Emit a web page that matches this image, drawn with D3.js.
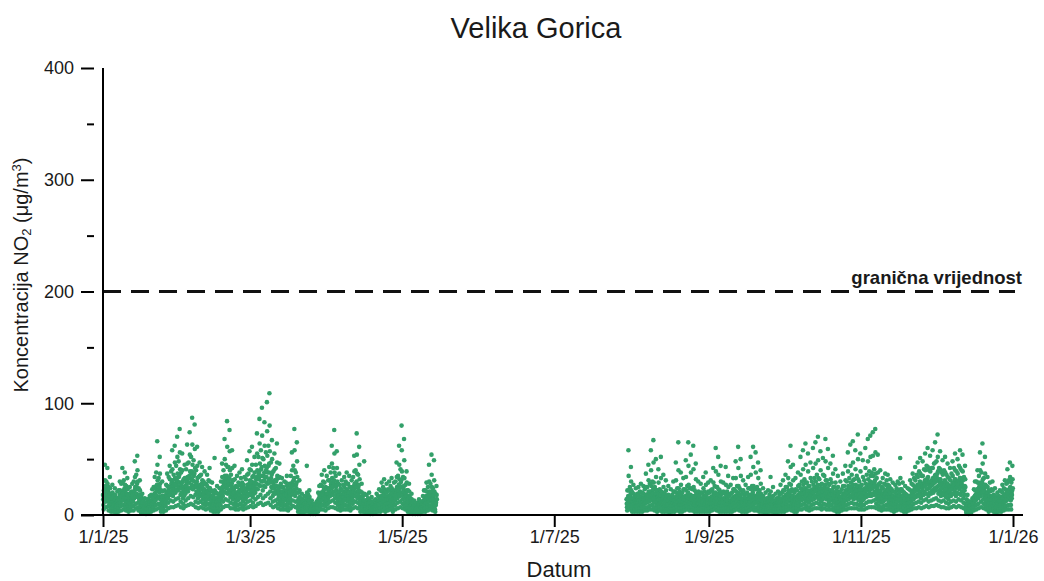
<!DOCTYPE html>
<html>
<head>
<meta charset="utf-8">
<script src="https://cdn.jsdelivr.net/npm/d3@7"></script>
<style>
  html, body { margin: 0; padding: 0; background: #fff; }
  svg { display: block; font-family: "Liberation Sans", Arial, sans-serif; }
</style>
</head>
<body>
<svg id="chart" width="1044" height="581"></svg>
<script>
// NO2 concentrations (µg/m³), one reading every two hours, one row per day.
const sampleHours = [0, 2, 4, 6, 8, 10, 12, 14, 16, 18, 20, 22];

const jan = [
  [18,14,9,5,22,16,12,15,20,45,31,24],[26,19,12,7,30,21,15,18,23,42,28,22],[21,16,8,4,25,17,11,13,17,34,24,19],
  [14,9,6,3,19,13,10,12,15,27,20,16],[12,8,5,3,17,12,9,11,13,24,18,14],[10,7,4,2,15,10,8,9,12,21,15,12],
  [13,9,6,3,22,15,11,14,18,30,22,16],[17,11,8,4,28,19,14,17,21,42,29,21],[19,13,9,5,31,22,16,19,24,38,27,22],
  [15,10,7,4,26,18,13,15,19,33,23,18],[12,8,5,3,18,13,10,11,14,25,19,15],[14,10,7,4,21,15,12,13,16,28,20,16],
  [18,12,8,4,30,20,15,18,22,48,34,25],[24,16,10,6,36,25,19,23,28,53,40,30],[16,11,7,4,24,16,12,14,18,31,22,18],
  [10,7,4,2,16,11,8,9,11,19,14,11],[8,5,3,2,12,8,6,7,9,15,11,9],[7,4,3,1,11,7,5,6,8,14,10,8],
  [9,6,4,2,14,9,7,8,10,17,12,10],[11,7,5,3,18,12,9,10,13,23,16,13],[15,10,7,4,25,17,12,15,19,34,24,18],
  [20,13,9,5,38,26,17,22,27,66,45,31],[22,15,10,6,33,23,16,20,25,52,37,28],[14,9,6,3,22,15,11,13,17,30,21,16],
  [11,7,5,3,17,12,9,10,13,22,16,13],[16,11,8,4,27,19,14,16,20,37,26,20],[21,15,11,6,34,24,18,21,25,44,32,25],
  [25,18,13,7,39,28,21,25,30,58,41,31],[23,17,12,7,36,26,20,23,28,62,47,33],[27,20,14,8,44,31,23,27,33,70,52,37],
  [30,22,15,9,48,34,25,29,36,77,56,41]
];
const feb = [
  [24,18,12,7,38,27,20,24,29,55,40,30],[20,15,10,6,32,23,17,20,25,45,33,25],[26,19,13,8,41,29,22,26,31,63,46,34],
  [29,21,15,9,47,33,24,29,35,74,54,39],[33,24,17,10,52,37,27,32,39,87,63,45],[31,23,16,9,49,35,26,30,37,81,59,42],
  [25,18,12,7,40,28,21,25,30,61,44,33],[21,15,11,6,34,24,18,21,26,47,35,27],[23,17,12,7,36,25,19,23,28,43,31,26],
  [19,14,10,6,30,21,16,19,23,39,28,22],[17,12,9,5,28,19,14,17,21,36,26,20],[20,14,10,6,31,22,16,19,24,42,30,24],
  [14,10,7,4,22,15,12,14,17,29,21,16],[11,8,5,3,18,12,9,11,13,51,22,15],[13,9,6,3,20,14,10,12,15,26,19,15],
  [12,8,6,3,19,13,10,12,14,24,17,14],[18,13,9,5,30,21,15,19,23,46,34,25],[24,17,12,7,40,28,21,25,31,68,50,35],
  [28,20,14,8,45,32,24,29,35,84,61,43],[26,19,13,8,43,30,22,27,33,76,57,40],[22,16,11,6,36,26,19,23,28,58,42,31],
  [19,14,10,6,31,22,16,20,24,44,32,25],[16,11,8,5,26,18,13,16,20,35,25,20],[18,13,9,5,29,20,15,18,22,38,27,22],
  [21,15,10,6,33,23,17,21,25,41,29,24],[17,12,8,5,27,19,14,17,21,34,24,20],[20,14,10,6,32,22,16,20,24,49,36,27],
  [23,17,12,7,37,26,19,23,28,57,41,31]
];
const mar = [
  [25,18,13,8,40,28,21,25,30,61,45,34],[22,16,11,7,35,25,19,22,27,52,38,29],[28,20,14,8,45,32,24,28,34,73,55,40],
  [32,23,16,10,52,37,27,32,39,86,64,46],[35,26,18,11,58,41,30,35,43,96,71,51],[30,22,15,9,50,35,26,31,38,83,62,44],
  [34,25,17,10,56,40,29,34,42,101,75,53],[38,28,19,11,62,44,32,38,46,109,80,57],[29,21,15,9,47,33,25,30,36,67,50,38],
  [24,17,12,7,39,27,20,24,30,55,41,31],[26,19,13,8,42,30,22,26,32,64,47,35],[20,14,10,6,33,23,17,20,25,46,34,26],
  [17,12,9,5,28,19,14,17,21,33,25,21],[15,11,8,5,25,17,13,15,19,30,22,18],[18,13,9,5,29,20,15,18,22,35,26,21],
  [14,10,7,4,23,16,12,14,18,28,21,17],[21,15,10,6,35,25,18,22,27,56,40,29],[26,19,13,8,44,31,22,27,33,77,58,40],
  [23,17,12,7,38,27,20,24,29,65,48,34],[12,8,6,3,20,14,10,12,15,31,22,16],[9,6,4,2,15,10,7,9,11,19,14,11],
  [8,5,3,2,13,9,6,8,10,17,12,10],[10,7,5,3,16,11,8,10,12,44,20,14],[11,7,5,3,18,12,9,11,13,22,16,13],
  [7,4,3,1,11,7,5,6,8,13,9,8],[5,3,2,1,8,5,4,5,6,10,7,6],[6,4,2,1,10,6,5,6,7,12,8,7],
  [12,8,6,3,20,14,10,12,15,26,18,14],[16,11,8,5,27,19,13,16,20,36,26,20],[18,13,9,5,30,21,15,18,23,40,29,23],
  [15,11,8,4,25,17,13,15,19,35,24,19]
];
const apr = [
  [19,14,10,6,31,22,16,19,24,43,31,24],[23,17,12,7,38,27,20,24,29,62,46,33],[25,18,13,7,42,29,21,26,31,76,55,38],
  [21,15,11,6,35,25,18,22,27,57,42,30],[17,12,9,5,28,19,14,17,21,37,27,21],[14,10,7,4,24,16,12,14,18,31,22,17],
  [16,11,8,5,27,18,13,16,20,34,25,19],[19,13,9,5,30,21,15,18,23,38,28,22],[17,12,8,5,28,19,14,17,21,35,25,20],
  [15,10,7,4,25,17,12,15,19,31,23,18],[20,14,10,6,34,24,17,21,26,53,39,28],[24,17,12,7,40,28,20,25,30,73,54,37],
  [21,15,11,6,36,25,18,22,27,61,45,32],[13,9,6,3,21,15,11,13,16,28,20,16],[10,7,5,3,17,12,8,10,13,48,19,13],
  [8,5,3,2,13,9,6,8,10,18,12,10],[9,6,4,2,15,10,7,9,11,20,14,11],[7,4,3,1,12,8,6,7,9,16,11,9],
  [6,4,2,1,10,7,5,6,7,13,9,7],[8,5,3,2,14,9,6,8,10,19,13,10],[10,7,5,3,17,12,8,10,13,23,16,13],
  [13,9,6,3,22,15,11,14,17,29,21,16],[15,10,7,4,25,17,12,15,19,32,23,18],[12,8,6,3,21,14,10,13,16,28,20,15],
  [14,10,7,4,23,16,11,14,17,30,22,17],[16,11,8,5,26,18,13,16,20,33,24,19],[13,9,6,3,22,15,11,14,17,29,21,16],
  [18,13,9,5,30,21,15,19,23,47,34,25],[21,15,11,6,35,25,18,22,27,62,45,32],[24,17,12,7,41,29,20,25,31,80,58,39]
];
const may = [
  [20,14,10,6,34,24,17,21,26,68,49,33],[16,11,8,5,27,19,14,17,21,39,29,22],[13,9,6,3,22,15,11,14,17,28,21,16],
  [9,6,4,2,15,10,8,9,12,19,14,11],[6,4,2,1,10,7,5,6,8,13,9,7],[5,3,2,1,9,6,4,5,6,11,8,6],
  [7,4,3,1,11,7,5,6,8,14,10,8],[6,4,3,1,10,7,5,6,7,12,9,7],[10,7,5,3,17,12,8,10,13,22,16,12],
  [13,9,6,3,22,15,11,14,17,29,21,16],[15,10,7,4,25,17,12,15,19,45,30,21],[17,12,8,5,28,19,14,17,21,54,36,25],
  [14,10,7,4,24,16,12,14,18,49,31,21],[11,8,5,3,19,13,9,11,14,26,18,14]
];
// measurements resume on 30 July
const jul = [
  [14,10,7,4,22,15,11,13,17,58,35,22],[16,11,8,5,25,17,12,15,19,43,30,22]
];
const aug = [
  [12,8,6,3,20,14,10,12,15,27,19,15],[10,7,5,3,17,12,8,10,13,24,17,13],[11,8,5,3,19,13,9,11,14,25,18,14],
  [13,9,6,3,21,14,10,13,16,28,20,16],[12,8,6,3,20,14,10,12,15,26,19,15],[14,10,7,4,23,16,11,14,17,37,25,18],
  [15,11,7,4,25,17,12,15,19,45,31,21],[17,12,8,5,28,19,14,17,21,58,40,26],[18,13,9,5,30,21,15,19,23,67,47,29],
  [15,11,7,4,25,17,12,15,19,50,34,22],[13,9,6,3,22,15,11,14,17,41,29,19],[14,10,7,4,23,16,11,14,18,52,33,21],
  [12,8,6,3,20,14,10,12,15,36,25,17],[11,8,5,3,19,13,9,11,14,31,22,15],[10,7,5,3,17,12,8,10,13,26,18,13],
  [9,6,4,2,15,10,7,9,11,23,16,12],[11,8,5,3,18,13,9,11,14,30,21,15],[13,9,6,3,21,14,10,13,16,47,31,20],
  [15,10,7,4,24,17,12,15,18,65,40,24],[13,9,6,3,21,14,10,13,16,38,27,18],[12,8,6,3,20,14,10,12,15,33,23,16],
  [14,10,7,4,23,16,11,14,17,49,34,22],[16,11,8,5,26,18,13,16,20,65,44,27],[15,10,7,4,24,17,12,15,18,54,38,24],
  [14,10,7,4,23,16,11,14,17,62,41,25],[13,9,6,3,22,15,11,14,17,46,32,20],[11,8,5,3,18,13,9,11,14,30,21,15],
  [10,7,5,3,17,12,8,10,13,28,20,14],[12,8,6,3,20,14,10,12,15,34,24,17],[13,9,6,3,21,14,10,13,16,38,27,18],
  [11,8,5,3,19,13,9,11,14,29,21,15]
];
const sep = [
  [12,8,6,3,20,14,10,12,15,31,22,16],[14,10,7,4,23,16,11,14,17,42,29,20],[16,11,8,5,26,18,13,16,20,60,39,25],
  [15,10,7,4,25,17,12,15,19,52,36,23],[13,9,6,3,22,15,11,14,17,44,30,20],[11,8,5,3,19,13,9,11,14,29,21,15],
  [12,8,6,3,20,14,10,12,15,43,27,18],[13,9,6,3,21,14,10,13,16,35,25,18],[10,7,5,3,17,12,8,10,13,27,19,13],
  [12,8,6,3,20,14,10,12,15,33,23,16],[14,10,7,4,23,16,11,14,17,48,33,21],[16,11,8,5,26,18,13,16,20,61,42,26],
  [14,10,7,4,24,17,12,15,18,50,35,22],[11,8,5,3,19,13,9,11,14,31,22,15],[10,7,5,3,17,12,8,10,13,27,19,13],
  [12,8,6,3,20,14,10,12,15,34,24,17],[15,10,7,4,24,17,12,15,18,52,36,23],[16,11,8,5,26,18,13,16,20,61,43,26],
  [14,10,7,4,23,16,11,14,17,56,38,23],[15,11,7,4,25,17,12,15,19,47,33,22],[13,9,6,3,22,15,11,14,17,40,28,19],
  [10,7,5,3,16,11,8,10,12,24,17,13],[8,6,4,2,14,10,7,9,11,20,14,11],[9,6,4,2,15,10,7,9,11,22,15,12],
  [11,7,5,3,18,12,9,11,13,34,21,15],[10,7,5,3,16,11,8,10,12,25,17,13],[8,5,4,2,13,9,6,8,10,19,13,10],
  [9,6,4,2,15,10,7,9,11,21,15,12],[11,8,5,3,18,13,9,11,14,27,19,14],[12,8,6,3,20,14,10,12,15,31,22,16]
];
const oct = [
  [13,9,6,3,22,15,11,13,16,36,25,18],[15,10,7,4,25,17,12,15,19,48,33,22],[17,12,8,5,28,19,14,17,21,62,43,27],
  [14,10,7,4,23,16,11,14,17,45,31,21],[12,8,6,3,20,14,10,12,15,33,23,16],[13,9,6,3,22,15,11,14,17,38,26,18],
  [16,11,8,5,27,18,13,16,20,52,36,24],[18,13,9,5,30,21,15,19,23,58,41,27],[19,14,10,6,32,22,16,20,24,64,45,29],
  [17,12,8,5,29,20,14,18,22,55,39,26],[15,11,7,4,26,18,13,16,20,47,33,22],[18,13,9,5,30,21,15,19,23,60,42,27],
  [20,14,10,6,33,23,17,21,25,65,46,30],[22,16,11,6,36,25,18,22,27,70,49,33],[19,14,10,6,32,22,16,20,24,57,40,27],
  [17,12,8,5,28,19,14,17,21,51,36,24],[21,15,10,6,35,25,18,22,27,68,48,31],[19,14,9,5,31,22,16,20,24,59,42,28],
  [16,11,8,5,27,18,13,16,20,46,32,22],[18,13,9,5,29,20,15,18,22,53,37,25],[15,11,7,4,25,17,12,15,19,41,29,20],
  [13,9,6,3,22,15,11,14,17,35,25,18],[12,8,6,3,20,14,10,12,15,30,21,16],[14,10,7,4,23,16,11,14,17,37,26,19],
  [16,11,8,5,26,18,13,16,20,44,31,22],[18,13,9,5,30,21,15,19,23,56,39,26],[20,14,10,6,33,23,17,21,25,63,44,29],
  [22,16,11,6,36,25,18,22,27,66,47,31],[19,14,10,6,32,22,16,20,24,58,41,27],[21,15,10,6,35,24,18,22,26,72,50,32],
  [18,13,9,5,30,21,15,19,23,55,39,26]
];
const nov = [
  [16,11,8,5,27,18,13,16,20,49,34,23],[19,14,9,5,31,22,16,20,24,60,42,28],[22,16,11,6,36,25,18,22,27,68,48,32],
  [24,17,12,7,39,27,20,25,30,71,52,35],[23,17,12,7,38,27,19,24,29,74,53,35],[25,18,13,7,41,29,21,26,31,77,56,37],
  [20,14,10,6,33,23,17,21,25,54,38,27],[17,12,8,5,28,19,14,17,21,40,29,22],[15,11,7,4,25,17,12,15,19,33,24,19],
  [17,12,8,5,28,19,14,17,21,37,27,21],[19,14,9,5,31,22,16,20,24,36,27,22],[16,11,8,5,26,18,13,16,20,32,24,19],
  [14,10,7,4,23,16,11,14,17,29,21,17],[13,9,6,3,21,14,10,13,16,27,20,16],[15,10,7,4,24,17,12,15,18,30,22,18],
  [17,12,8,5,28,19,14,17,21,51,33,23],[14,10,7,4,23,16,11,14,17,29,21,17],[12,8,6,3,20,14,10,12,15,26,19,15],
  [11,8,5,3,18,13,9,11,14,24,17,14],[14,10,7,4,23,16,11,14,17,31,22,17],[17,12,8,5,28,19,14,17,21,37,27,21],
  [20,14,10,6,33,23,17,21,25,43,31,25],[22,16,11,6,36,25,18,22,27,47,34,27],[24,17,12,7,39,27,20,25,30,51,37,29],
  [21,15,11,6,35,25,18,22,27,48,35,27],[25,18,13,7,41,29,21,26,31,55,40,31],[27,19,14,8,44,31,23,28,33,60,43,34],
  [24,17,12,7,40,28,20,25,30,53,39,30],[26,19,13,8,42,30,22,27,32,58,42,33],[28,20,14,8,46,32,24,29,35,65,47,36]
];
const dec = [
  [30,22,15,9,48,34,25,31,37,72,52,39],[26,19,13,8,42,30,22,27,32,57,41,32],[23,17,12,7,38,27,20,24,29,49,36,28],
  [25,18,13,7,40,28,21,26,31,52,38,30],[22,16,11,6,36,25,19,23,28,46,34,27],[20,14,10,6,33,23,17,21,25,42,31,25],
  [23,17,12,7,37,26,19,23,28,48,35,28],[26,19,13,8,42,30,22,27,32,55,40,32],[24,17,12,7,39,27,20,25,30,50,37,29],
  [27,19,14,8,44,31,23,28,33,58,42,33],[25,18,13,7,40,28,21,26,31,54,39,31],[21,15,11,6,34,24,18,22,26,44,32,25],
  [9,6,4,2,14,10,7,9,11,18,13,10],[6,4,3,1,10,7,5,6,8,12,9,7],[8,5,4,2,12,8,6,7,9,15,11,9],
  [14,10,7,4,23,16,11,14,17,30,22,17],[18,13,9,5,30,21,15,19,23,40,29,23],[21,15,10,6,35,25,18,22,27,56,40,29],
  [23,17,12,7,38,27,20,24,29,64,46,32],[20,14,10,6,33,23,17,21,25,52,37,27],[16,11,8,5,26,18,13,16,20,34,25,20],
  [13,9,6,3,22,15,11,14,17,29,21,16],[14,10,7,4,23,16,11,14,17,30,22,17],[11,8,5,3,18,13,9,11,14,24,17,13],
  [9,6,4,2,15,10,7,9,11,20,14,11],[10,7,5,3,17,12,8,10,13,22,16,12],[13,9,6,3,21,14,10,13,16,27,20,16],
  [15,10,7,4,24,17,12,15,18,31,23,18],[17,12,8,5,28,19,14,17,21,41,29,22],[19,14,9,5,31,22,16,20,24,47,34,25],
  [18,13,9,5,29,20,15,18,22,44,32,24]
];

// [month index, first day of month in the block, daily rows]
const blocks = [
  [0, 1, jan], [1, 1, feb], [2, 1, mar], [3, 1, apr], [4, 1, may],
  [6, 30, jul], [7, 1, aug], [8, 1, sep], [9, 1, oct], [10, 1, nov], [11, 1, dec]
];

const yMajorTicks = [0, 100, 200, 300, 400];
const yMinorTicks = [50, 150, 250, 350];
const xTickDates = [
  new Date(2025, 0, 1), new Date(2025, 2, 1), new Date(2025, 4, 1), new Date(2025, 6, 1),
  new Date(2025, 8, 1), new Date(2025, 10, 1), new Date(2026, 0, 1)
];
const limitValue = 200;
const limitLabel = "granična vrijednost";

const points = blocks.flatMap(([m, first, rows]) =>
  rows.flatMap((vals, i) => vals.map((v, k) => ({
    t: new Date(2025, m, first + i, sampleHours[k]),
    v
  })))
);

const svg = d3.select("#chart");
const plotLeft = 103, plotRight = 1013, plotTop = 68, plotBottom = 515;

const x = d3.scaleTime()
  .domain([new Date(2025, 0, 1), new Date(2026, 0, 1)])
  .range([plotLeft, plotRight]);
const y = d3.scaleLinear().domain([0, 400]).range([plotBottom, plotTop]);

// title
svg.append("text")
  .attr("x", 536).attr("y", 38)
  .attr("text-anchor", "middle")
  .attr("font-size", 29)
  .attr("fill", "#1a1a1a")
  .text("Velika Gorica");

// data points
svg.append("g")
  .selectAll("circle")
  .data(points)
  .join("circle")
  .attr("cx", d => x(d.t))
  .attr("cy", d => y(d.v))
  .attr("r", 2.3)
  .attr("fill", "#33a06a");

// limit line
svg.append("line")
  .attr("x1", plotLeft).attr("x2", plotRight + 2)
  .attr("y1", y(limitValue)).attr("y2", y(limitValue))
  .attr("stroke", "#111")
  .attr("stroke-width", 3)
  .attr("stroke-dasharray", "18,10");
svg.append("text")
  .attr("x", 1022).attr("y", y(limitValue) - 8)
  .attr("text-anchor", "end")
  .attr("font-size", 18.5)
  .attr("font-weight", "bold")
  .attr("fill", "#1a1a1a")
  .text(limitLabel);

// y axis: ticks sit slightly apart from the axis line
const yAxis = svg.append("g")
  .attr("transform", `translate(${plotLeft - 9},0)`)
  .call(d3.axisLeft(y).tickValues(yMajorTicks).tickSize(13).tickPadding(7));
yAxis.select(".domain").remove();
yAxis.selectAll(".tick line").attr("stroke", "#000").attr("stroke-width", 2);
yAxis.selectAll(".tick text")
  .attr("font-size", 18)
  .attr("fill", "#1a1a1a")
  .attr("font-family", "Liberation Sans, Arial, sans-serif");

const yMinor = svg.append("g")
  .attr("transform", `translate(${plotLeft - 9},0)`)
  .call(d3.axisLeft(y).tickValues(yMinorTicks).tickSize(7).tickFormat(""));
yMinor.select(".domain").remove();
yMinor.selectAll(".tick line").attr("stroke", "#000").attr("stroke-width", 2);

svg.append("line")
  .attr("x1", plotLeft).attr("x2", plotLeft)
  .attr("y1", plotTop).attr("y2", plotBottom + 1)
  .attr("stroke", "#000").attr("stroke-width", 2);

// x axis
const xAxis = svg.append("g")
  .attr("transform", `translate(0,${plotBottom})`)
  .call(d3.axisBottom(x).tickValues(xTickDates).tickSize(12).tickPadding(3)
    .tickFormat(d3.timeFormat("%-d/%-m/%y")));
xAxis.select(".domain").remove();
xAxis.selectAll(".tick line").attr("stroke", "#000").attr("stroke-width", 2);
xAxis.selectAll(".tick text")
  .attr("font-size", 18)
  .attr("fill", "#1a1a1a")
  .attr("font-family", "Liberation Sans, Arial, sans-serif");

svg.append("line")
  .attr("x1", 81).attr("x2", 1023)
  .attr("y1", plotBottom).attr("y2", plotBottom)
  .attr("stroke", "#000").attr("stroke-width", 2);

// axis titles
svg.append("text")
  .attr("x", 559).attr("y", 577)
  .attr("text-anchor", "middle")
  .attr("font-size", 22)
  .attr("fill", "#1a1a1a")
  .text("Datum");

const yTitle = svg.append("text")
  .attr("transform", "translate(28,275) rotate(-90)")
  .attr("text-anchor", "middle")
  .attr("font-size", 20)
  .attr("fill", "#1a1a1a");
yTitle.append("tspan").text("Koncentracija NO");
yTitle.append("tspan").attr("font-size", 13).attr("dy", 3).text("2");
yTitle.append("tspan").attr("dy", -3).text(" (μg/m");
yTitle.append("tspan").attr("font-size", 13).attr("dy", -7).text("3");
yTitle.append("tspan").attr("dy", 7).text(")");
</script>
</body>
</html>
